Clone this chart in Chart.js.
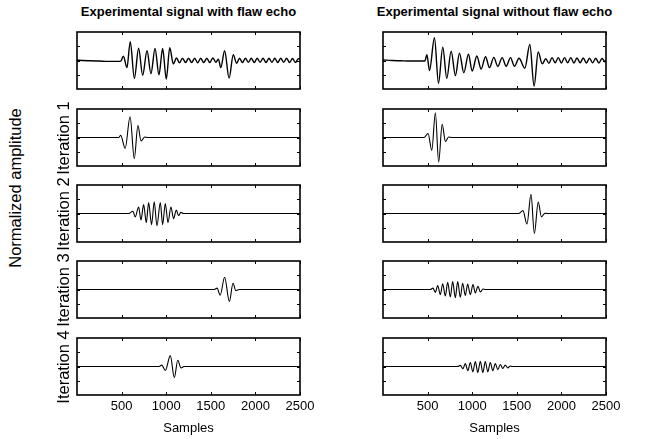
<!DOCTYPE html>
<html>
<head>
<meta charset="utf-8">
<script src="https://cdn.jsdelivr.net/npm/chart.js@4/dist/chart.umd.min.js"></script>
<style>
  html, body { margin: 0; padding: 0; background: #fff; }
  #fig { position: relative; width: 658px; height: 439px; overflow: hidden; font-family: "Liberation Sans", Arial, sans-serif; color: #000; }
  .box { position: absolute; }
  .title { position: absolute; font-weight: bold; font-size: 13px; white-space: nowrap; transform: translateX(-50%); }
  .xlabel { position: absolute; font-size: 13px; white-space: nowrap; transform: translateX(-50%); }
  .ylabel { position: absolute; font-size: 16.5px; white-space: nowrap; transform: translate(-50%, -50%) rotate(-90deg); }
</style>
</head>
<body>
<div id="fig"></div>
<script>
// axes
const samplesTicks = [500, 1000, 1500, 2000, 2500];
const ampTicks = [-0.5, 0, 0.5];
const rowLabels = ['', 'Iteration 1', 'Iteration 2', 'Iteration 3', 'Iteration 4'];
const colTitles = ['Experimental signal with flaw echo', 'Experimental signal without flaw echo'];

// left column: signal with flaw echo and its 4 extracted echoes (extrema)
const leftSignalX = [0, 60, 150, 250, 350, 450, 490, 520, 560, 597, 643, 691, 736, 785, 829, 875, 919, 960, 1001, 1040, 1080,
  1115, 1149, 1183, 1217, 1251, 1285, 1319, 1353, 1387, 1421, 1455, 1489, 1523, 1557, 1585,
  1612, 1655, 1705, 1752, 1790,
  1822, 1855, 1888, 1921, 1954, 1987, 2020, 2053, 2086, 2119, 2152, 2185, 2218, 2251, 2284, 2317, 2350, 2383, 2416, 2449, 2482, 2500];
const leftSignalY = [0.01, 0.0, -0.01, -0.02, -0.03, -0.03, -0.02, 0.15, -0.25, 0.66, -0.63, 0.43, -0.52, 0.34, -0.46, 0.42, -0.5, 0.42, -0.65, 0.45, -0.12,
  0.09, -0.08, 0.08, -0.07, 0.08, -0.07, 0.08, -0.08, 0.08, -0.07, 0.08, -0.07, 0.09, -0.06, 0.05,
  -0.25, 0.34, -0.62, 0.2, -0.1,
  0.08, -0.07, 0.08, -0.06, 0.08, -0.07, 0.08, -0.06, 0.08, -0.07, 0.08, -0.06, 0.08, -0.07, 0.08, -0.06, 0.08, -0.07, 0.07, -0.07, 0.06, 0.05];

const leftIter1X = [0, 470, 490, 540, 595, 642, 683, 718, 760, 790, 2500];
const leftIter1Y = [0, 0, 0.08, -0.38, 0.73, -0.74, 0.42, -0.12, 0.02, 0, 0];

const leftIter2X = [0, 579, 627, 653, 691, 717, 747, 777, 803, 836, 866, 896, 934, 960, 990, 1020, 1053, 1083, 1113, 1139, 1165, 1195, 2500];
const leftIter2Y = [0, 0, 0.08, -0.12, 0.23, -0.23, 0.31, -0.32, 0.38, -0.39, 0.41, -0.43, 0.38, -0.39, 0.35, -0.32, 0.23, -0.18, 0.12, -0.08, 0.04, 0, 0];

const leftIter3X = [0, 1540, 1570, 1605, 1655, 1708, 1749, 1780, 1820, 2500];
const leftIter3Y = [0, 0, 0.05, -0.2, 0.43, -0.42, 0.22, -0.04, 0, 0];

const leftIter4X = [0, 920, 950, 990, 1046, 1091, 1130, 1166, 1200, 2500];
const leftIter4Y = [0, 0, 0.05, -0.14, 0.38, -0.39, 0.22, -0.05, 0, 0];

// right column: signal without flaw echo
const rightSignalX = [0, 100, 200, 300, 400, 470, 492, 521, 577, 622, 670, 715, 764, 812, 857, 906, 958, 1000, 1052, 1100, 1149, 1194, 1242, 1287, 1336, 1381, 1429, 1474, 1525,
  1590, 1646, 1694, 1740, 1785,
  1825, 1860, 1895, 1930, 1965, 2000, 2035, 2070, 2105, 2140, 2175, 2210, 2245, 2280, 2315, 2350, 2385, 2420, 2455, 2490, 2500];
const rightSignalY = [0.02, 0.0, -0.01, -0.02, -0.02, -0.02, 0.2, -0.35, 0.8, -0.8, 0.47, -0.63, 0.33, -0.53, 0.26, -0.43, 0.22, -0.37, 0.16, -0.3, 0.13, -0.25, 0.11, -0.21, 0.1, -0.2, 0.1, -0.2, 0.08,
  -0.27, 0.56, -0.9, 0.3, -0.12,
  0.06, -0.1, 0.1, -0.08, 0.1, -0.09, 0.1, -0.08, 0.1, -0.09, 0.09, -0.08, 0.09, -0.09, 0.08, -0.08, 0.08, -0.09, 0.07, -0.05, 0.02];

const rightIter1X = [0, 460, 505, 547, 587, 624, 663, 700, 735, 770, 2500];
const rightIter1Y = [0, 0, 0.14, -0.45, 0.87, -0.86, 0.46, -0.14, 0.02, 0, 0];

const rightIter2X = [0, 1520, 1569, 1614, 1659, 1697, 1740, 1777, 1815, 1845, 2500];
const rightIter2Y = [0, 0, 0.1, -0.37, 0.67, -0.7, 0.4, -0.12, 0.01, 0, 0];

const rightIter3X = [0, 531, 560, 587, 613, 643, 669, 699, 725, 755, 781, 811, 837, 867, 893, 923, 949, 979, 1009, 1035, 1065, 1091, 1121, 1147, 2500];
const rightIter3Y = [0, 0, 0.05, -0.1, 0.14, -0.18, 0.2, -0.23, 0.25, -0.26, 0.28, -0.29, 0.28, -0.27, 0.22, -0.21, 0.19, -0.18, 0.17, -0.12, 0.11, -0.09, 0.02, 0, 0];

const rightIter4X = [0, 837, 867, 895, 923, 951, 979, 1007, 1035, 1063, 1091, 1119, 1147, 1175, 1203, 1231, 1259, 1287, 1315, 1343, 1371, 1399, 1427, 1446, 2500];
const rightIter4Y = [0, 0, 0.04, -0.08, 0.1, -0.15, 0.14, -0.19, 0.17, -0.21, 0.18, -0.21, 0.17, -0.19, 0.14, -0.15, 0.1, -0.11, 0.07, -0.07, 0.05, -0.05, 0.02, 0, 0];

const panels = [
  [leftSignalX, leftSignalY, rightSignalX, rightSignalY],
  [leftIter1X, leftIter1Y, rightIter1X, rightIter1Y],
  [leftIter2X, leftIter2Y, rightIter2X, rightIter2Y],
  [leftIter3X, leftIter3Y, rightIter3X, rightIter3Y],
  [leftIter4X, leftIter4Y, rightIter4X, rightIter4Y],
];

// layout (px)
const COL_LEFT = [77, 383];
const ROW_TOP = [32, 109, 185, 261, 338];
const PLOT_W = 223;
const PLOT_H = 57;
const PAD_X = 20;
const PAD_Y = 6;
const XAXIS_H = 30;

const fig = document.getElementById('fig');

function addText(cls, text, x, y) {
  const d = document.createElement('div');
  d.className = cls;
  d.textContent = text;
  d.style.left = x + 'px';
  d.style.top = y + 'px';
  fig.appendChild(d);
}

// box with inward ticks, like the original figure
const frame = {
  id: 'frame',
  afterDatasetsDraw(chart) {
    const { ctx, chartArea: a, scales: { x, y } } = chart;
    ctx.save();
    ctx.strokeStyle = '#000';
    ctx.lineWidth = 1;
    ctx.beginPath();
    samplesTicks.forEach((v) => {
      const px = Math.round(x.getPixelForValue(v)) + 0.5;
      ctx.moveTo(px, a.top); ctx.lineTo(px, a.top + 3);
      ctx.moveTo(px, a.bottom); ctx.lineTo(px, a.bottom - 3);
    });
    ampTicks.forEach((v) => {
      const py = Math.round(y.getPixelForValue(v)) + 0.5;
      ctx.moveTo(a.left, py); ctx.lineTo(a.left + 3, py);
      ctx.moveTo(a.right, py); ctx.lineTo(a.right - 3, py);
    });
    ctx.stroke();
    ctx.lineWidth = 1.6;
    ctx.strokeRect(a.left, a.top, a.right - a.left, a.bottom - a.top);
    ctx.restore();
  },
};

function makePanel(row, col) {
  const xs = panels[row][col * 2];
  const ys = panels[row][col * 2 + 1];
  const last = row === ROW_TOP.length - 1;

  const box = document.createElement('div');
  box.className = 'box';
  box.style.left = (COL_LEFT[col] - PAD_X) + 'px';
  box.style.top = (ROW_TOP[row] - PAD_Y) + 'px';
  box.style.width = (PLOT_W + 2 * PAD_X) + 'px';
  box.style.height = (PLOT_H + 2 * PAD_Y + (last ? XAXIS_H : 0)) + 'px';
  const canvas = document.createElement('canvas');
  box.appendChild(canvas);
  fig.appendChild(box);

  return new Chart(canvas.getContext('2d'), {
    type: 'line',
    data: {
      datasets: [{
        data: xs.map((v, i) => ({ x: v, y: ys[i] })),
        borderColor: '#000',
        borderWidth: row === 0 ? 1.4 : 1.1,
        pointRadius: 0,
        cubicInterpolationMode: 'monotone',
        fill: false,
      }],
    },
    options: {
      animation: false,
      responsive: true,
      maintainAspectRatio: false,
      layout: { padding: { left: PAD_X, right: PAD_X, top: PAD_Y, bottom: PAD_Y } },
      plugins: { legend: { display: false }, tooltip: { enabled: false } },
      scales: {
        x: {
          type: 'linear',
          min: 0,
          max: 2500,
          display: last,
          grid: { display: false, drawTicks: false },
          border: { display: false },
          afterBuildTicks: (s) => { s.ticks = samplesTicks.map((v) => ({ value: v })); },
          afterFit: (s) => { s.height = last ? XAXIS_H : 0; },
          ticks: {
            color: '#000',
            padding: 4,
            maxRotation: 0,
            autoSkip: false,
            callback: (v) => String(v),
            font: { family: '"Liberation Sans", Arial, sans-serif', size: 13 },
          },
        },
        y: { type: 'linear', min: -1, max: 1, display: false },
      },
    },
    plugins: [frame],
  });
}

for (let r = 0; r < ROW_TOP.length; r += 1) {
  makePanel(r, 0);
  makePanel(r, 1);
}

colTitles.forEach((t, c) => addText('title', t, COL_LEFT[c] + PLOT_W / 2, 4));
COL_LEFT.forEach((l) => addText('xlabel', 'Samples', l + PLOT_W / 2, 420));
rowLabels.forEach((t, r) => {
  if (t) addText('ylabel', t, 63, ROW_TOP[r] + PLOT_H / 2);
});
addText('ylabel', 'Normalized amplitude', 15, 188);
</script>
</body>
</html>
